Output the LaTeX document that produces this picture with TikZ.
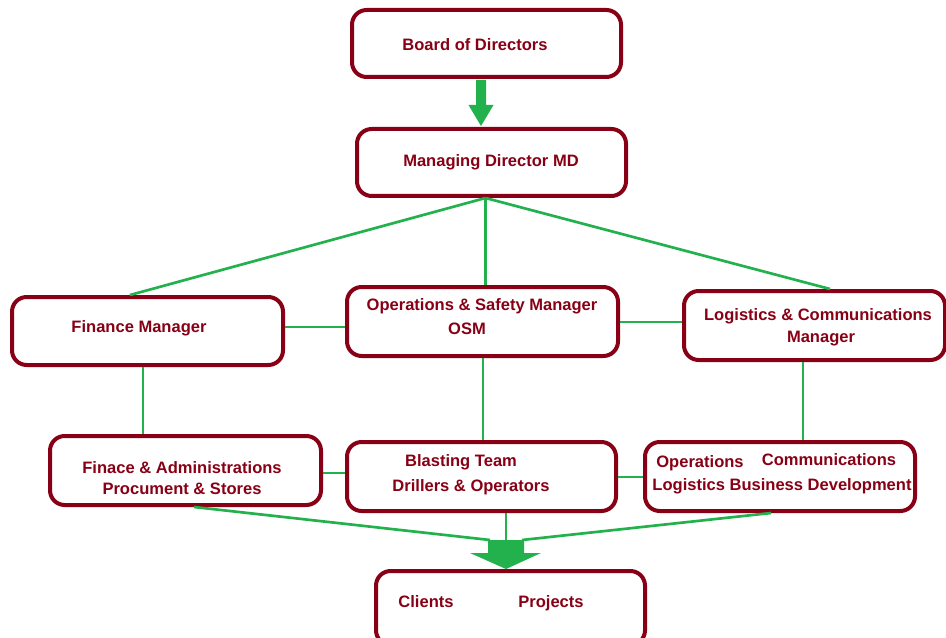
\documentclass[tikz,border=0pt]{standalone}
\usepackage{fontspec}
\setmainfont{Liberation Sans}
\usetikzlibrary{fit,calc}
\definecolor{dred}{HTML}{880015}
\definecolor{pgreen}{HTML}{22B14C}
\begin{document}
\begin{tikzpicture}[x=0.75pt,y=-0.75pt,
  box/.style={draw=dred,line width=3pt,rounded corners=11pt,inner sep=0pt,fill=white},
  lbl/.style={text=dred,font=\bfseries\fontsize{12.4}{16}\selectfont,anchor=base,inner sep=0pt},
  conn/.style={draw=pgreen,line width=2pt},
  bigarrow/.style={fill=pgreen}]
\useasboundingbox (0,0) rectangle (946,638);
\fill[white] (0,0) rectangle (946,638);
% boxes
\node[box,fit={(352,10)(621,77)}] (bod) {};
\node[box,fit={(357,129)(626,196)}] (md) {};
\node[box,fit={(12,297)(283,365)}] (fin) {};
\node[box,fit={(347,287)(618,356)}] (osm) {};
\node[box,fit={(684,291)(945,360)}] (lcm) {};
\node[box,fit={(50,436)(321,505)}] (fa) {};
\node[box,fit={(347,442)(616,511)}] (bt) {};
\node[box,fit={(645,442)(915,511)}] (ops) {};
\node[box,fit={(376,571)(645,645)}] (cp) {};
% labels
\node[lbl] (t1) at (475,51) {Board of Directors};
\node[lbl] (t2) at (491,167) {Managing Director MD};
\node[lbl] (t3) at (139,332) {Finance Manager};
\node[lbl] (t4a) at (482,310) {Operations \& Safety Manager};
\node[lbl] (t4b) at (467,334) {OSM};
\node[lbl] (t5a) at (818,320) {Logistics \& Communications};
\node[lbl] (t5b) at (821,342) {Manager};
\node[lbl] (t6a) at (182,473) {Finace \& Administrations};
\node[lbl] (t6b) at (182,494) {Procument \& Stores};
\node[lbl] (t7a) at (461,466) {Blasting Team};
\node[lbl] (t7b) at (471,491) {Drillers \& Operators};
\node[lbl] (t8a) at (700,467) {Operations};
\node[lbl] (t8b) at (829,465) {Communications};
\node[lbl] (t8c) at (782,490) {Logistics Business Development};
\node[lbl] (t9a) at (426,607) {Clients};
\node[lbl] (t9b) at (551,607) {Projects};
% top arrow
\coordinate (a1) at ($(bod.south)+(-5.5,1)$);
\fill[pgreen] ($(a1)+(-5,0)$) -- ($(a1)+(5,0)$) -- ($(a1)+(5,25)$) -- ($(a1)+(12.5,25)$)
  -- ($(md.north)+(-10.5,-1)$) -- ($(a1)+(-12.5,25)$) -- ($(a1)+(-5,25)$) -- cycle;
% connectors from MD
\coordinate (mdp) at ($(md.south)+(-6,0)$);
\draw[conn] (mdp) -- ($(fin.north)+(-17.5,0)$);
\draw[conn] (mdp) -- (osm.north -| mdp);
\draw[conn] (mdp) -- ($(lcm.north)+(15.5,0)$);
\draw[conn] (fin.east |- 0,327) -- (osm.west |- 0,327);
\draw[conn] (osm.east |- 0,322) -- (lcm.west |- 0,322);
\draw[conn] (fin.south -| 143,0) -- (fa.north -| 143,0);
\draw[conn] (osm.south -| 483,0) -- (bt.north -| 483,0);
\draw[conn] (lcm.south -| 803,0) -- (ops.north -| 803,0);
\draw[conn] (fa.east |- 0,473) -- (bt.west |- 0,473);
\draw[conn] (bt.east |- 0,477) -- (ops.west |- 0,477);
% bottom connectors
\coordinate (ba) at (506,540);
\draw[conn] (fa.south -| 194,0) -- ($(ba)+(-16,0)$);
\draw[conn] (ops.south -| 771,0) -- ($(ba)+(16,0)$);
\draw[conn] (bt.south -| ba) -- (ba);
\fill[pgreen] ($(ba)+(-18,0)$) -- ($(ba)+(18,0)$) -- ($(ba)+(18,13)$) -- ($(ba)+(35,13)$)
  -- (cp.north -| ba) -- ($(ba)+(-36,13)$) -- ($(ba)+(-18,13)$) -- cycle;
\end{tikzpicture}
\end{document}
